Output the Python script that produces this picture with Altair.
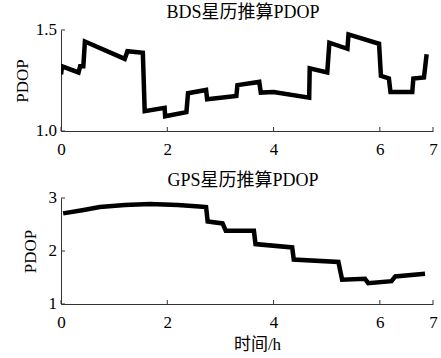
import altair as alt
import pandas as pd

# BDS PDOP (time in h, PDOP)
bds_t = [0.0, 0.02, 0.33, 0.36, 0.42, 0.45, 1.20, 1.25, 1.54, 1.575, 1.95, 1.96, 2.36, 2.39, 2.73, 2.75,
         3.30, 3.32, 3.73, 3.76, 4.0, 4.67, 4.68, 5.01, 5.05, 5.39, 5.41, 5.985, 6.02, 6.17, 6.20, 6.61, 6.63,
         6.83, 6.88]
bds_v = [1.28, 1.32, 1.29, 1.32, 1.32, 1.443, 1.357, 1.395, 1.387, 1.098, 1.115, 1.073, 1.093, 1.187, 1.203, 1.157,
         1.173, 1.227, 1.243, 1.19, 1.193, 1.165, 1.31, 1.29, 1.437, 1.407, 1.478, 1.432, 1.273, 1.26, 1.193, 1.193, 1.26,
         1.265, 1.38]

# GPS PDOP
gps_t = [0.04, 0.40, 0.73, 1.2, 1.67, 2.2, 2.6, 2.73, 2.76, 3.04, 3.10, 3.63, 3.66, 4.35, 4.38, 5.22, 5.29,
         5.72, 5.78, 6.22, 6.29, 6.85]
gps_v = [2.71, 2.77, 2.83, 2.87, 2.886, 2.87, 2.84, 2.83, 2.556, 2.52, 2.384, 2.38, 2.13, 2.067, 1.838, 1.794, 1.457,
         1.476, 1.394, 1.43, 1.52, 1.57]

x_ticks = [0, 2, 4, 6, 7]
bds_yticks = [1.0, 1.5]
gps_yticks = [1, 2, 3]
bds_ylabels = ["1.0", "1.5"]
gps_ylabels = ["1", "2", "3"]

FONT = "Liberation Serif, Noto Sans CJK SC"
W = 372


def panel(t, v, yticks, ylabels, ydom, title, h, xtitle, ytitle_pad):
    df = pd.DataFrame({"t": t, "v": v, "i": range(len(t))})
    xs = alt.Scale(domain=[0, 7], nice=False, zero=False)
    ys = alt.Scale(domain=ydom, nice=False, zero=False)
    if xtitle:
        xaxis = alt.Axis(values=x_ticks, format="d", title=xtitle, ticks=False,
                         labelPadding=10, grid=False, domainColor="#333", titlePadding=6,
                         labelOverlap=False, labelFlush=False, titleX=W / 2 + 10)
    else:
        xaxis = alt.Axis(values=x_ticks, format="d", title=None, ticks=False,
                         labelPadding=10, grid=False, domainColor="#333",
                         labelOverlap=False, labelFlush=False)
    yaxis = alt.Axis(values=yticks, title="PDOP", ticks=False, labels=False,
                     grid=False, domainColor="#333", titlePadding=ytitle_pad)
    line = alt.Chart(df).mark_line(color="black", strokeWidth=4.5, strokeJoin="miter", clip=True).encode(
        x=alt.X("t:Q", scale=xs, axis=xaxis),
        y=alt.Y("v:Q", scale=ys, axis=yaxis),
        order="i:Q",
    )
    xt = alt.Chart(pd.DataFrame({"t": x_ticks})).mark_rule(color="#333", strokeWidth=1).encode(
        x=alt.X("t:Q", scale=xs, axis=xaxis), y=alt.value(h), y2=alt.value(h - 4))
    ydf = pd.DataFrame({"v": yticks, "lab": ylabels})
    yt = alt.Chart(ydf).mark_rule(color="#333", strokeWidth=1).encode(
        y=alt.Y("v:Q", scale=ys, axis=yaxis), x=alt.value(0), x2=alt.value(4))
    ylab = alt.Chart(ydf).mark_text(align="right", baseline="middle", font=FONT, fontSize=17,
                                    color="black", dx=-4).encode(
        y=alt.Y("v:Q", scale=ys, axis=yaxis), x=alt.value(0), text="lab:N")
    return alt.layer(line, xt, yt, ylab).properties(
        width=W, height=h,
        title=alt.TitleParams(title, fontSize=18, font=FONT, fontWeight="normal", offset=-1,
                              frame="group", anchor="middle", dx=-4),
    )


top = panel(bds_t, bds_v, bds_yticks, bds_ylabels, [1.0, 1.5], "BDS星历推算PDOP", 101, None, 30)
bot = panel(gps_t, gps_v, gps_yticks, gps_ylabels, [1, 3], "GPS星历推算PDOP", 106, "时间/h", 22)

chart = alt.vconcat(top, bot, spacing=15).configure_view(stroke=None).configure_axis(
    labelFont=FONT, titleFont=FONT, labelFontSize=17, titleFontSize=17, titleFontWeight="normal",
    labelColor="black", titleColor="black", domainWidth=1,
).properties(padding={"left": 13, "top": 4, "right": 3, "bottom": 2}, background="white")

chart.save("out.html", embed_options={"renderer": "svg", "actions": False})
